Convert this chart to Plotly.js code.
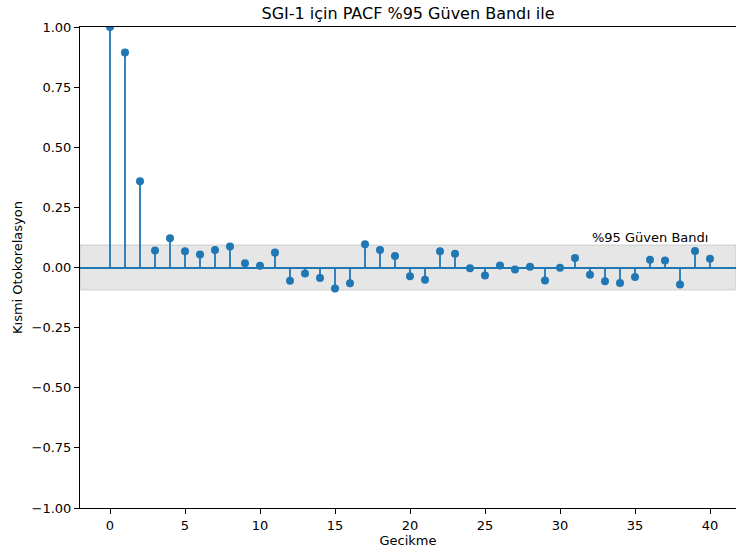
<!DOCTYPE html>
<html>
<head>
<meta charset="utf-8">
<script src="https://cdn.plot.ly/plotly-3.0.1.min.js"></script>
<style>html,body{margin:0;padding:0;background:#fff;}#chart{width:736px;height:552px;}</style>
</head>
<body>
<div id="chart"></div>
<script>
const lags = [0,1,2,3,4,5,6,7,8,9,10,11,12,13,14,15,16,17,18,19,20,21,22,23,24,25,26,27,28,29,30,31,32,33,34,35,36,37,38,39,40];
const pacf = [1.000,0.894,0.359,0.071,0.122,0.068,0.054,0.073,0.087,0.018,0.007,0.062,-0.055,
  -0.025,-0.044,-0.087,-0.065,0.097,0.073,0.048,-0.036,-0.051,0.068,0.057,-0.003,-0.033,
  0.008,-0.008,0.003,-0.054,-0.001,0.040,-0.030,-0.057,-0.064,-0.039,0.032,0.029,-0.071,0.069,0.036];
const confBand = 0.0936;
const yTicks = [-1,-0.75,-0.5,-0.25,0,0.25,0.5,0.75,1];
const xTicks = [0,5,10,15,20,25,30,35,40];
const titleText = "SGI-1 için PACF %95 Güven Bandı ile";
const bandLabel = "%95 Güven Bandı";

const stemX = [], stemY = [];
lags.forEach((l,i)=>{ stemX.push(l,l,null); stemY.push(0,pacf[i],null); });

const blue = '#1f77b4';
const font = "DejaVu Sans, sans-serif";

const data = [
  {x: stemX, y: stemY, mode: 'lines', line: {color: blue, width: 1.8}, hoverinfo: 'skip', showlegend: false},
  {x: lags, y: pacf, mode: 'markers', marker: {color: blue, size: 8}, showlegend: false}
];

const layout = {
  width: 736, height: 552,
  margin: {l: 80, r: 0, t: 27, b: 44},
  paper_bgcolor: '#fff', plot_bgcolor: '#fff',
  font: {family: font, size: 13, color: '#000'},
  title: {text: titleText, x: 0.5, xref: 'paper', y: 0.976, yanchor: 'middle', font: {family: font, size: 16, color: '#000'}},
  xaxis: {range: [-2, 41.733], tickvals: xTicks, ticks: 'outside', ticklen: 5, tickcolor: '#000',
    showline: true, mirror: true, linecolor: '#000', linewidth: 1, showgrid: false, zeroline: false,
    title: {text: 'Gecikme', font: {family: font, size: 13}, standoff: 3}},
  yaxis: {range: [-1, 1], tickvals: yTicks, tickformat: '.2f', ticks: 'outside', ticklen: 5, tickcolor: '#000',
    showline: true, mirror: false, linecolor: '#000', linewidth: 1, showgrid: false,
    zeroline: true, zerolinecolor: blue, zerolinewidth: 2,
    title: {text: 'Kısmi Otokorelasyon', font: {family: font, size: 13}, standoff: 6}},
  shapes: [{type: 'rect', xref: 'paper', x0: 0, x1: 1, yref: 'y', y0: -confBand, y1: confBand,
    fillcolor: 'rgba(128,128,128,0.2)', line: {color: 'rgba(128,128,128,0.2)', width: 1.5}, layer: 'below'}],
  annotations: [{x: 40, y: confBand, xref: 'x', yref: 'y', text: bandLabel, showarrow: false,
    xanchor: 'right', yanchor: 'bottom', yshift: -2, font: {family: font, size: 13, color: '#000'}}]
};

Plotly.newPlot('chart', data, layout, {displayModeBar: false});
</script>
</body>
</html>
